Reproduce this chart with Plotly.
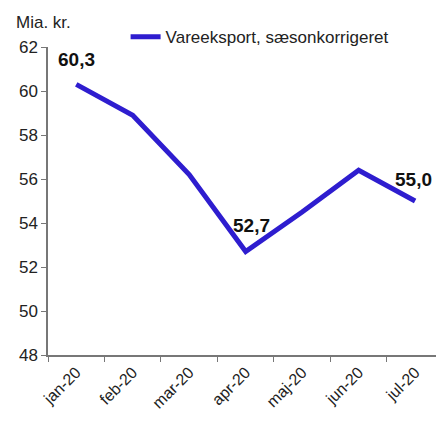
import plotly.graph_objects as go

months = ["jan-20", "feb-20", "mar-20", "apr-20", "maj-20", "jun-20", "jul-20"]
values = [60.3, 58.9, 56.2, 52.7, 54.5, 56.4, 55.0]
series_name = "Vareeksport, sæsonkorrigeret"
label_idx = [0, 3, 6]
label_text = ["60,3", "52,7", "55,0"]
y_ticks = [48, 50, 52, 54, 56, 58, 60, 62]

line_color = "#2E1DCF"
font_family = "Liberation Sans, Arial, sans-serif"

fig = go.Figure()
fig.add_trace(go.Scatter(
    x=months, y=values, mode="lines", name=series_name,
    line=dict(color=line_color, width=5), showlegend=True,
))

shifts = [(0, 25), (6, 26), (-2, 22)]
for i, t, (dx, dy) in zip(label_idx, label_text, shifts):
    fig.add_annotation(x=months[i], y=values[i], text="<b>%s</b>" % t,
                       showarrow=False, xshift=dx, yshift=dy,
                       font=dict(size=19, color="#111111", family=font_family))

fig.add_annotation(xref="paper", yref="paper", x=-0.088, y=1.081, xanchor="left",
                   yanchor="middle", text="Mia. kr.", showarrow=False,
                   font=dict(size=17, color="#222222", family=font_family))

fig.update_layout(
    width=436, height=421,
    margin=dict(l=48, r=0, t=47, b=66, autoexpand=False),
    paper_bgcolor="white", plot_bgcolor="white",
    font=dict(family=font_family, size=17, color="#222222"),
    legend=dict(orientation="h", x=0.2, y=1.032, xanchor="left", yanchor="middle",
                font=dict(size=17, color="#222222"), bgcolor="rgba(0,0,0,0)"),
    xaxis=dict(type="category", range=[-0.5, 6.37], tickson="boundaries",
               showline=True, linecolor="#777777", linewidth=1.5,
               ticks="outside", ticklen=5, tickcolor="#777777", automargin=False,
               tickangle=-45, showgrid=False, tickfont=dict(size=16)),
    yaxis=dict(range=[48, 62], tickvals=y_ticks, showline=True, linecolor="#777777",
               linewidth=1.5, ticks="outside", ticklen=5, tickcolor="#777777",
               automargin=False, showgrid=False, zeroline=False,
               tickfont=dict(size=17)),
)

fig.write_html("out.html", config={"displayModeBar": False},
               post_script="document.body.style.margin='0px';")
